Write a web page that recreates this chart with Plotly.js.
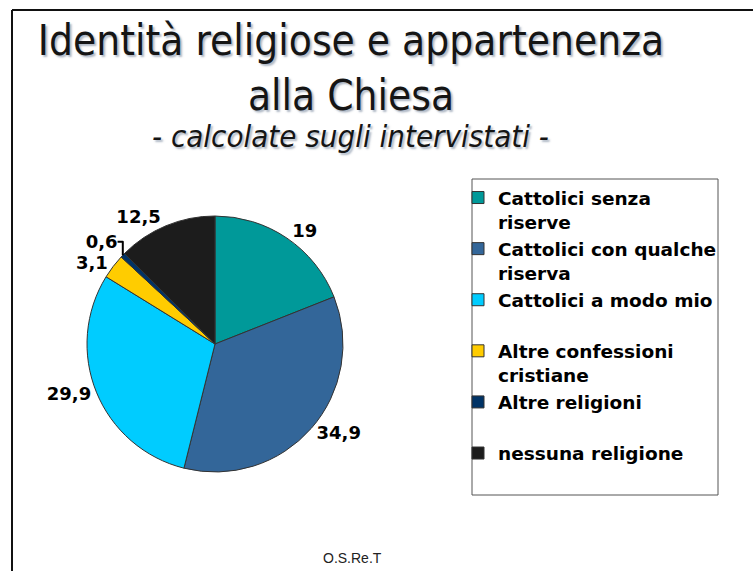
<!DOCTYPE html>
<html>
<head>
<meta charset="utf-8">
<script src="https://cdn.plot.ly/plotly-3.0.1.min.js"></script>
<style>html,body{margin:0;padding:0;background:#fff;}#chart{width:753px;height:571px;}</style>
</head>
<body>
<div id="chart"></div>
<script>
// ---- data ----
const categories = [
  "Cattolici senza<br>riserve",
  "Cattolici con qualche<br>riserva",
  "Cattolici a modo mio<br> ",
  "Altre confessioni<br>cristiane",
  "Altre religioni<br> ",
  "nessuna religione"
];
const values = [19, 34.9, 29.9, 3.1, 0.6, 12.5];
const colors = ["#009999", "#336699", "#00CCFF", "#FFCC00", "#003366", "#1C1C1C"];
const titleLines = ["Identità religiose e appartenenza", "alla Chiesa"];
const subtitle = "- calcolate sugli intervistati -";
const footer = "O.S.Re.T";

const W = 753, H = 571;
const px = x => x / W;
const py = y => 1 - y / H;

const labelText = values.map(v => String(v).replace(".", ","));

const trace = {
  type: "pie",
  labels: categories,
  values: values,
  text: labelText,
  textinfo: "text",
  textposition: "outside",
  sort: false,
  direction: "clockwise",
  rotation: 0,
  marker: { colors: colors, line: { color: "#333333", width: 1 } },
  outsidetextfont: { family: "DejaVu Sans", size: 18, color: "#000", weight: "bold" },
  domain: { x: [px(215 - 128), px(215 + 128)], y: [py(344 + 128), py(344 - 128)] },
  hoverinfo: "none"
};

const titleFont = "DejaVu Sans Condensed, Liberation Sans Narrow, DejaVu Sans";
const shadow = "2px 2px 2px rgba(110,125,150,0.55)";

const layout = {
  width: W, height: H,
  margin: { l: 0, r: 0, t: 0, b: 0 },
  paper_bgcolor: "#fff",
  showlegend: true,
  title: {
    text: titleLines.join("<br>"),
    font: { family: titleFont, size: 42, color: "#151515", shadow: shadow },
    x: px(351), xanchor: "center", xref: "paper",
    y: py(55), yanchor: "top", yref: "container"
  },
  legend: {
    x: px(458), xanchor: "left",
    y: py(179), yanchor: "top",
    bgcolor: "rgba(0,0,0,0)", borderwidth: 0,
    font: { family: "DejaVu Sans", size: 18.5, color: "#000", weight: "bold" },
    valign: "top", traceorder: "normal"
  },
  shapes: [
    { type: "line", xref: "paper", yref: "paper", x0: px(12), x1: 1, y0: py(10), y1: py(10), line: { color: "#111", width: 2 } },
    { type: "line", xref: "paper", yref: "paper", x0: px(12), x1: px(12), y0: py(10), y1: 0, line: { color: "#111", width: 2 } },
    { type: "rect", xref: "paper", yref: "paper", x0: px(472), x1: px(718), y0: py(495), y1: py(179), line: { color: "#555", width: 1 } }
  ],
  annotations: [
    { text: "<i>" + subtitle + "</i>", xref: "paper", yref: "paper", x: px(350), y: py(136), xanchor: "center", yanchor: "middle", showarrow: false,
      font: { family: titleFont, size: 31, color: "#151515", shadow: shadow } },
    { text: footer, xref: "paper", yref: "paper", x: px(352), y: py(558), xanchor: "center", yanchor: "middle", showarrow: false,
      font: { family: "Liberation Sans Narrow, Liberation Sans", size: 14, color: "#222" } }
  ]
};

Plotly.newPlot("chart", [trace], layout, { staticPlot: true, displayModeBar: false });
</script>
</body>
</html>
